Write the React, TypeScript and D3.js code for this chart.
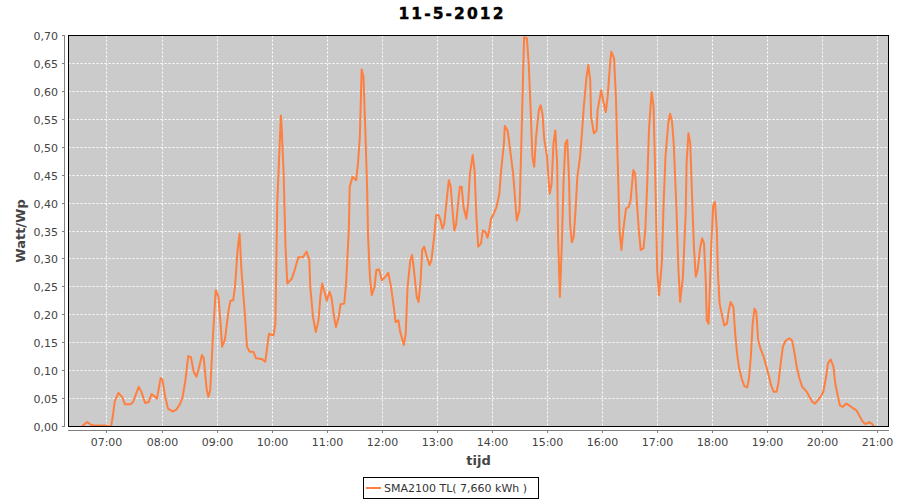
import React from "react";
import * as d3 from "d3";

const title = "11-5-2012";
const seriesName = "SMA2100 TL( 7,660 kWh )";
const xAxisTitle = "tijd";
const yAxisTitle = "Watt/Wp";

const times = [
  "06:33","06:36","06:39","06:43","06:46","06:59","07:02","07:05","07:07","07:09",
  "07:13","07:17","07:20","07:26","07:29","07:35","07:38","07:42","07:46","07:49",
  "07:53","07:55","07:59","08:01","08:04","08:07","08:12","08:16","08:20","08:23",
  "08:26","08:29","08:32","08:35","08:38","08:41","08:44","08:46","08:49","08:51",
  "08:53","08:56","08:59","09:02","09:04","09:06","09:09","09:13","09:15","09:18",
  "09:20","09:23","09:25","09:27","09:31","09:33","09:36","09:40","09:43","09:49",
  "09:53","09:57","10:02","10:04","10:06","10:08","10:10","10:11","10:13","10:15",
  "10:17","10:22","10:25","10:29","10:34","10:38","10:41","10:42","10:45","10:48",
  "10:51","10:53","10:55","10:58","11:00","11:03","11:05","11:08","11:10","11:13",
  "11:15","11:19","11:21","11:24","11:25","11:28","11:32","11:34","11:36","11:38",
  "11:40","11:42","11:44","11:45","11:47","11:49","11:52","11:54","11:57","12:00",
  "12:04","12:07","12:10","12:13","12:15","12:18","12:20","12:24","12:26","12:28",
  "12:31","12:33","12:35","12:38","12:40","12:42","12:44","12:46","12:49","12:52",
  "12:54","12:57","12:59","13:02","13:04","13:06","13:08","13:11","13:13","13:15",
  "13:17","13:19","13:21","13:23","13:25","13:27","13:29","13:32","13:34","13:36",
  "13:39","13:41","13:43","13:45","13:48","13:50","13:53","13:55","13:57","13:59",
  "14:02","14:05","14:08","14:10","14:13","14:14","14:17","14:20","14:23","14:25",
  "14:27","14:30","14:32","14:34","14:35","14:38","14:40","14:42","14:44","14:46",
  "14:48","14:51","14:53","14:55","14:57","15:00","15:02","15:03","15:05","15:07",
  "15:09","15:11","15:12","15:14","15:16","15:18","15:20","15:22","15:24","15:25",
  "15:27","15:29","15:31","15:33","15:36","15:38","15:40","15:43","15:45","15:47",
  "15:48","15:51","15:54","15:55","15:58","15:59","16:01","16:04","16:06","16:09",
  "16:10","16:13","16:15","16:17","16:19","16:21","16:23","16:26","16:29","16:31",
  "16:34","16:36","16:38","16:40","16:42","16:45","16:47","16:49","16:51","16:53",
  "16:54","16:56","16:58","17:00","17:02","17:05","17:07","17:09","17:12","17:14",
  "17:16","17:18","17:21","17:23","17:25","17:28","17:31","17:32","17:34","17:36",
  "17:38","17:40","17:42","17:44","17:47","17:49","17:51","17:53","17:54","17:56",
  "17:57","17:59","18:01","18:03","18:05","18:06","18:08","18:11","18:13","18:16",
  "18:18","18:20","18:23","18:25","18:27","18:29","18:32","18:35","18:38","18:40",
  "18:42","18:44","18:46","18:48","18:50","18:53","18:56","18:59","19:01","19:04",
  "19:07","19:10","19:12","19:15","19:17","19:20","19:24","19:27","19:29","19:32",
  "19:35","19:38","19:43","19:46","19:49","19:52","19:55","19:58","20:01","20:04",
  "20:06","20:09","20:12","20:14","20:17","20:19","20:22","20:26","20:29","20:34",
  "20:37","20:40","20:43","20:46","20:48","20:51","20:54","20:56"
];

const values = [
  0.000,0.004,0.008,0.003,0.002,0.002,0.000,0.000,0.020,0.045,
  0.060,0.053,0.040,0.040,0.044,0.071,0.062,0.042,0.044,0.058,
  0.053,0.050,0.087,0.083,0.053,0.032,0.027,0.030,0.040,0.053,
  0.083,0.126,0.124,0.098,0.089,0.107,0.128,0.122,0.068,0.053,
  0.065,0.163,0.244,0.232,0.190,0.143,0.155,0.208,0.225,0.226,
  0.250,0.320,0.345,0.280,0.196,0.143,0.134,0.134,0.122,0.121,
  0.116,0.166,0.163,0.184,0.399,0.477,0.557,0.530,0.453,0.322,
  0.256,0.265,0.280,0.303,0.303,0.313,0.298,0.250,0.196,0.169,
  0.190,0.232,0.256,0.238,0.225,0.241,0.232,0.196,0.178,0.196,
  0.219,0.220,0.256,0.351,0.429,0.447,0.441,0.471,0.518,0.639,
  0.626,0.530,0.423,0.339,0.268,0.235,0.250,0.280,0.281,0.262,
  0.268,0.275,0.250,0.214,0.187,0.190,0.169,0.146,0.166,0.250,
  0.298,0.307,0.280,0.232,0.223,0.256,0.316,0.322,0.304,0.289,
  0.298,0.339,0.378,0.378,0.369,0.354,0.363,0.411,0.441,0.429,
  0.387,0.351,0.363,0.399,0.429,0.429,0.393,0.372,0.399,0.453,
  0.486,0.459,0.375,0.322,0.328,0.351,0.348,0.338,0.351,0.372,
  0.381,0.393,0.417,0.459,0.507,0.538,0.530,0.492,0.453,0.411,
  0.369,0.387,0.507,0.638,0.697,0.695,0.650,0.572,0.483,0.465,
  0.518,0.566,0.575,0.560,0.513,0.483,0.435,0.417,0.435,0.507,
  0.530,0.471,0.339,0.232,0.322,0.441,0.507,0.513,0.441,0.363,
  0.330,0.339,0.387,0.447,0.483,0.525,0.572,0.626,0.647,0.620,
  0.554,0.525,0.530,0.566,0.593,0.602,0.584,0.563,0.590,0.656,
  0.671,0.659,0.590,0.471,0.351,0.316,0.351,0.390,0.393,0.405,
  0.459,0.453,0.399,0.351,0.316,0.319,0.351,0.429,0.530,0.578,
  0.599,0.572,0.441,0.280,0.235,0.292,0.399,0.483,0.542,0.560,
  0.548,0.507,0.387,0.286,0.223,0.268,0.381,0.471,0.525,0.507,
  0.411,0.322,0.268,0.280,0.322,0.337,0.328,0.256,0.190,0.184,
  0.232,0.328,0.396,0.402,0.351,0.280,0.220,0.196,0.181,0.184,
  0.208,0.223,0.214,0.166,0.131,0.107,0.086,0.072,0.070,0.086,
  0.125,0.184,0.211,0.205,0.154,0.137,0.125,0.107,0.095,0.074,
  0.062,0.062,0.077,0.119,0.143,0.154,0.158,0.154,0.137,0.107,
  0.086,0.071,0.062,0.053,0.044,0.041,0.047,0.053,0.062,0.089,
  0.113,0.120,0.107,0.077,0.053,0.038,0.035,0.041,0.038,0.032,
  0.029,0.020,0.011,0.005,0.005,0.008,0.005,0.000
];

const xTickLabels = ["07:00","08:00","09:00","10:00","11:00","12:00","13:00","14:00","15:00","16:00","17:00","18:00","19:00","20:00","21:00"];
const yTicks = [0, 0.05, 0.1, 0.15, 0.2, 0.25, 0.3, 0.35, 0.4, 0.45, 0.5, 0.55, 0.6, 0.65, 0.7];

const toDate = (s: string) => {
  const [h, m] = s.split(":").map(Number);
  return new Date(2012, 4, 11, h, m, 0);
};

const FONT = "'DejaVu Sans', sans-serif";

export default function App() {
  const left = 68.5, right = 888.5, top = 35.5, bottom = 426.5;
  const x = d3
    .scaleTime()
    .domain([new Date(2012, 4, 11, 6, 18, 36), new Date(2012, 4, 11, 21, 12, 0)])
    .range([left, right]);
  const y = d3.scaleLinear().domain([0, 0.7]).range([bottom, top]);

  const data = times.map((t, i) => ({ t: toDate(t), v: values[i] }));
  const line = d3
    .line<{ t: Date; v: number }>()
    .x((d) => x(d.t))
    .y((d) => y(d.v));

  const fmtY = (v: number) => d3.format(".2f")(v).replace(".", ",");
  const xTicks = xTickLabels.map((l) => ({ label: l, pos: Math.round(x(toDate(l))) + 0.5 }));

  return (
    <svg
      width={900}
      height={500}
      style={{ position: "absolute", left: 0, top: 0, background: "#fff" }}
      fontFamily={FONT}
    >
      <defs>
        <clipPath id="plotClip">
          <rect x={left} y={top - 1} width={right - left} height={bottom - top + 1} />
        </clipPath>
      </defs>
      <rect x={0} y={0} width={900} height={500} fill="#fff" />
      <text x={451} y={19} textAnchor="middle" fontSize={15.5} fontWeight="bold" fill="#000" textLength={105} lengthAdjust="spacing" stroke="#000" strokeWidth={0.4}>
        {title}
      </text>

      <rect x={left} y={top} width={right - left} height={bottom - top} fill="#cbcbcb" />
      <g stroke="#fff" strokeWidth={1} strokeDasharray="2,2">
        {yTicks.map((v) => {
          const yy = Math.round(y(v) - 0.5) + 0.5;
          return <line key={"gy" + v} x1={left} x2={right} y1={yy} y2={yy} />;
        })}
        {xTicks.map((t) => (
          <line key={"gx" + t.label} x1={t.pos} x2={t.pos} y1={top} y2={bottom} />
        ))}
      </g>
      <path
        d={line(data) || ""}
        fill="none"
        stroke="#ff7f3f"
        strokeWidth={2}
        strokeLinejoin="round"
        clipPath="url(#plotClip)"
      />
      <rect x={left} y={top} width={right - left} height={bottom - top} fill="none" stroke="#000" strokeWidth={1} />

      {/* Y axis */}
      <line x1={64.5} x2={64.5} y1={top - 0.5} y2={bottom + 0.5} stroke="#808080" />
      {yTicks.map((v) => {
        const yy = Math.round(y(v) - 0.5) + 0.5;
        return (
          <g key={"ty" + v}>
            <line x1={62} x2={64.5} y1={yy} y2={yy} stroke="#808080" />
            <text x={58} y={yy + 4} textAnchor="end" fontSize={11} fill="#444">
              {fmtY(v)}
            </text>
          </g>
        );
      })}
      <text
        transform={`translate(25, ${(top + bottom) / 2}) rotate(-90)`}
        textAnchor="middle"
        fontSize={13}
        fontWeight="bold"
        fill="#444"
      >
        {yAxisTitle}
      </text>

      {/* X axis */}
      <line x1={left - 0.5} x2={right + 0.5} y1={430.5} y2={430.5} stroke="#808080" />
      {xTicks.map((t) => (
        <g key={"tx" + t.label}>
          <line x1={t.pos} x2={t.pos} y1={430.5} y2={433} stroke="#808080" />
          <text x={t.pos} y={446} textAnchor="middle" fontSize={11} fill="#444">
            {t.label}
          </text>
        </g>
      ))}
      <text x={(left + right) / 2} y={465} textAnchor="middle" fontSize={13} fontWeight="bold" fill="#444">
        {xAxisTitle}
      </text>

      {/* Legend */}
      <rect x={363.5} y={477.5} width={175} height={21} fill="#fff" stroke="#000" />
      <line x1={366} x2={381} y1={488} y2={488} stroke="#ff7f3f" strokeWidth={2} />
      <text x={384} y={492} fontSize={11} fill="#333">
        {seriesName}
      </text>
    </svg>
  );
}
